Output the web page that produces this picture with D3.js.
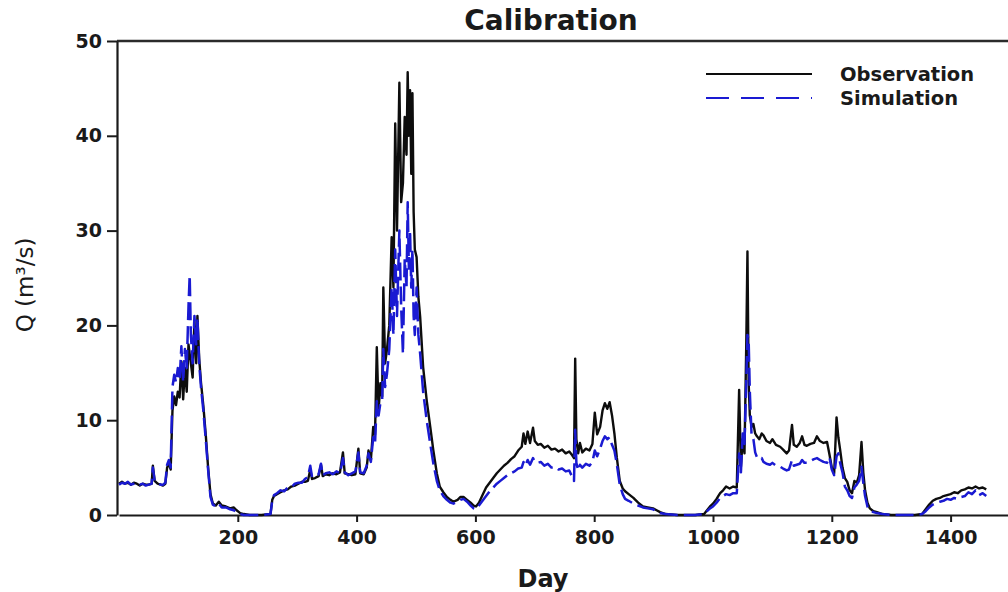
<!DOCTYPE html>
<html>
<head>
    <meta charset="utf-8">
    <script src="https://d3js.org/d3.v7.min.js"></script>
    <style>
        body { margin: 0; background: white; }
        text { font-family: "DejaVu Sans", sans-serif; }
    </style>
</head>
<body>
    <div id="my_dataviz"></div>

    <script>
        // daily discharge (irregular day sampling)
        var days = [0, 5, 10, 15, 20, 25, 30, 35, 40, 45, 50, 55, 57, 60, 65, 70, 74, 78, 81, 84, 87, 90, 93, 96, 99, 102, 105, 108, 111, 114, 117, 119, 121, 124, 127, 130, 132, 135, 138, 142, 146, 150, 154, 158, 163, 168, 173, 180, 187, 193, 198, 204, 210, 220, 240, 255,
            258, 261, 266, 272, 278, 284, 290, 296, 302, 308, 313, 318, 322, 325, 330, 336, 340, 343, 348, 354, 360, 366, 372, 377, 380, 386, 392, 398, 403, 406, 412, 417, 420, 424, 428, 431, 434, 437, 440, 443, 445, 448, 451, 455, 459, 462, 465, 468, 472, 475, 478, 481, 484, 486, 488, 490, 492, 494, 496, 498, 501, 504, 507, 512, 518, 524, 529, 535, 540, 546, 552, 558, 563, 570, 575, 580, 586, 592, 597,
            601, 606, 612, 618, 624, 630, 636, 642, 648, 654, 660, 666, 672, 678, 681, 684, 688, 692, 697, 700, 705, 710, 716, 722, 728, 734, 740, 746, 752, 758, 763, 766, 768, 770, 773, 776, 780, 786, 792, 797, 801, 805, 810, 814, 818, 822, 826, 830, 834, 838, 843, 848, 852, 858, 866, 874, 882, 890, 899, 905, 911, 920, 940, 970, 985,
            990, 995, 1000, 1006, 1012, 1017, 1022, 1028, 1034, 1040, 1044, 1047, 1050, 1053, 1056, 1058, 1060, 1062, 1065, 1068, 1071, 1074, 1078, 1082, 1085, 1090, 1096, 1100, 1106, 1113, 1118, 1124, 1128, 1133, 1136, 1141, 1146, 1150, 1154, 1158, 1164, 1170, 1175, 1180, 1186, 1192, 1196, 1200, 1204, 1208, 1211, 1214, 1218, 1222, 1226, 1230, 1234, 1238, 1242, 1246, 1250, 1253, 1256, 1260, 1264, 1270, 1276, 1285, 1300, 1340,
            1352, 1358, 1364, 1370, 1376, 1382, 1388, 1394, 1400, 1406, 1412, 1418, 1424, 1430, 1436, 1442, 1448, 1454, 1460];

        var observation = [3.3, 3.5, 3.3, 3.4, 3.2, 3.4, 3.3, 3.1, 3.3, 3.2, 3.2, 3.3, 5.2, 3.6, 3.3, 3.2, 3.1, 3.3, 5.0, 5.4, 4.8, 11.0, 12.5, 11.6, 13.0, 12.4, 16.2, 12.2, 15.5, 13.0, 18.0, 17.0, 16.0, 14.5, 20.5, 16.0, 21.0, 16.5, 14.0, 11.5, 8.5, 5.0, 2.2, 1.2, 1.0, 1.4, 1.0, 0.9, 0.7, 0.8, 0.5, 0.2, 0.1, 0.0, 0.0, 0.1,
            1.6, 2.0, 2.2, 2.4, 2.6, 2.7, 3.0, 3.1, 3.3, 3.5, 3.5, 3.6, 4.8, 3.8, 3.9, 4.1, 5.3, 4.1, 4.3, 4.2, 4.4, 4.3, 4.5, 6.6, 4.4, 4.3, 4.2, 4.3, 7.0, 4.4, 4.3, 5.0, 6.8, 5.8, 9.3, 8.5, 17.7, 11.0, 13.9, 12.5, 24.0, 16.0, 17.4, 20.0, 29.3, 24.0, 41.3, 30.0, 45.6, 33.0, 35.0, 42.0, 38.0, 46.7, 40.0, 44.8, 36.0, 44.5, 32.0, 28.0, 27.2, 23.0, 20.9, 15.6, 12.1, 9.3, 6.9, 4.4, 3.0, 2.4, 1.9, 1.6, 1.4, 1.6, 1.9, 1.9, 1.6, 1.3, 1.0,
            0.9, 1.3, 2.1, 2.9, 3.4, 3.9, 4.4, 4.8, 5.2, 5.5, 5.9, 6.2, 6.8, 7.2, 8.6, 7.5, 8.8, 7.6, 9.2, 7.8, 7.4, 7.5, 7.1, 7.3, 6.9, 7.0, 6.7, 6.9, 6.5, 6.7, 6.3, 6.0, 16.5, 8.0, 6.5, 7.6, 6.6, 7.0, 6.8, 7.5, 10.8, 8.5, 9.3, 11.0, 11.8, 11.2, 11.9, 10.5, 8.6, 6.1, 3.6, 2.8, 2.5, 2.2, 1.8, 1.3, 0.9, 0.8, 0.7, 0.5, 0.3, 0.1, 0.0, 0.0, 0.1,
            0.5, 0.9, 1.2, 1.7, 2.3, 2.6, 3.0, 2.8, 3.0, 2.9, 13.2, 5.1, 8.0, 6.5, 18.0, 27.8, 14.0, 10.5, 9.3, 9.6, 8.6, 8.3, 8.0, 8.6, 8.4, 7.8, 7.6, 8.0, 7.4, 7.2, 6.9, 6.5, 6.8, 9.5, 7.4, 7.2, 7.6, 8.3, 7.4, 7.3, 7.5, 7.6, 8.3, 7.8, 7.6, 7.7, 6.4, 5.0, 4.4, 10.3, 8.2, 6.9, 5.0, 3.9, 3.5, 2.6, 2.3, 3.6, 3.4, 4.2, 7.7, 4.5, 2.6, 1.3, 0.7, 0.4, 0.3, 0.1, 0.0, 0.0,
            0.1, 0.6, 1.1, 1.5, 1.7, 1.8, 2.0, 2.1, 2.2, 2.4, 2.3, 2.6, 2.7, 2.9, 2.8, 3.0, 2.8, 2.9, 2.7];

        var simulation = [3.2, 3.4, 3.3, 3.5, 3.2, 3.3, 3.4, 3.2, 3.3, 3.1, 3.2, 3.3, 5.0, 3.6, 3.4, 3.2, 3.2, 3.4, 5.3, 5.8, 5.0, 13.5, 14.8, 14.0, 15.5, 14.2, 17.8, 14.0, 17.5, 15.5, 22.0, 25.3, 19.0, 16.0, 21.0, 18.0, 20.8, 16.0, 13.5, 11.0, 8.0, 4.8, 1.9, 1.1, 0.9, 1.2, 0.8, 0.8, 0.6, 0.5, 0.3, 0.1, 0.0, 0.0, 0.0, 0.1,
            1.5, 2.1, 2.3, 2.6, 2.5, 2.9, 2.9, 3.3, 3.4, 3.4, 3.8, 4.0, 5.2, 4.0, 4.1, 4.3, 5.4, 4.2, 4.4, 4.5, 4.3, 4.6, 4.4, 6.0, 4.5, 4.2, 4.4, 4.6, 6.6, 4.5, 4.4, 5.2, 6.5, 5.6, 8.2, 7.5, 12.0, 10.5, 11.8, 12.0, 17.5, 13.5, 14.8, 17.5, 24.0, 19.0, 28.0, 21.0, 30.0, 22.0, 17.0, 27.0, 24.0, 33.0, 26.0, 30.0, 24.0, 28.0, 21.0, 19.0, 24.0, 19.0, 17.0, 13.0, 10.0, 7.5, 5.5, 3.6, 2.6, 2.0, 1.6, 1.3, 1.2, 1.4, 1.6, 1.7, 1.4, 1.0, 0.7,
            0.6, 1.0, 1.5, 2.0, 2.5, 2.9, 3.3, 3.6, 3.9, 4.2, 4.4, 4.6, 4.9, 5.0, 5.6, 5.2, 5.8, 5.3, 6.0, 5.6, 5.5, 5.6, 5.2, 5.4, 5.0, 5.1, 4.8, 4.9, 4.6, 4.7, 4.0, 3.6, 9.0, 5.5, 4.7, 5.3, 5.0, 5.4, 5.2, 5.6, 6.8, 6.2, 7.0, 7.8, 8.3, 8.0, 8.2, 7.4, 6.8, 5.4, 3.2, 2.2, 1.7, 1.5, 1.2, 1.0, 0.8, 0.7, 0.6, 0.4, 0.2, 0.1, 0.0, 0.0, 0.1,
            0.4, 0.7, 0.9, 1.3, 1.8, 2.0, 2.2, 2.1, 2.3, 2.3, 6.5, 4.5, 8.6, 7.5, 14.0, 19.0, 18.5, 13.0, 8.3, 8.0, 6.6, 6.1, 5.9, 6.0, 5.6, 5.4, 5.3, 5.5, 5.2, 5.1, 4.9, 4.7, 4.8, 5.8, 5.2, 5.3, 5.4, 5.8, 5.5, 5.5, 5.7, 5.9, 6.0, 5.8, 5.6, 5.5, 6.1, 4.8, 4.2, 6.2, 6.5, 5.5, 4.5, 3.0, 2.6, 2.0, 1.8, 2.9, 3.2, 3.6, 5.1, 3.4, 2.0, 0.9, 0.5, 0.3, 0.2, 0.1, 0.0, 0.0,
            0.1, 0.4, 0.8, 1.1, 1.3, 1.4, 1.5, 1.7, 1.6, 1.8, 1.7, 1.9, 2.0, 2.4, 2.2, 2.6, 2.1, 2.3, 2.0];

        var yTicks = [0, 10, 20, 30, 40, 50];
        var xTicks = [200, 400, 600, 800, 1000, 1200, 1400];

        var W = 1008, H = 592;

        var svg = d3.select("#my_dataviz")
            .append("svg")
            .attr("width", W)
            .attr("height", H);

        var x = d3.scaleLinear().domain([0, 1500]).range([119, 1010]);
        var y = d3.scaleLinear().domain([0, 50]).range([515, 41]);

        // top frame line
        svg.append("line")
            .attr("x1", 117).attr("x2", 1008)
            .attr("y1", y(50)).attr("y2", y(50))
            .attr("stroke", "#2b2b2b").attr("stroke-width", 2.5);

        // Y axis
        svg.append("g")
            .attr("transform", "translate(117,0)")
            .call(d3.axisLeft(y).tickValues(yTicks).tickSize(10).tickPadding(5).tickSizeOuter(0));
        // X axis
        svg.append("g")
            .attr("transform", "translate(0," + y(0) + ")")
            .call(d3.axisBottom(x).tickValues(xTicks).tickFormat(d3.format("d")).tickSize(7).tickPadding(9).tickSizeOuter(0));

        svg.selectAll(".domain").attr("stroke", "#1a1a1a").attr("stroke-width", 2.2);
        svg.selectAll(".tick line").attr("stroke", "#1a1a1a").attr("stroke-width", 2);
        svg.selectAll(".tick text")
            .style("font-family", "DejaVu Sans")
            .style("font-size", "19px")
            .style("font-weight", "bold")
            .attr("fill", "#1a1a1a");

        var obsData = days.map(function (d, i) { return [d, observation[i]]; });
        var simData = days.map(function (d, i) { return [d, simulation[i]]; });

        var line = d3.line()
            .x(function (d) { return x(d[0]); })
            .y(function (d) { return y(d[1]); });

        svg.append("path")
            .datum(obsData)
            .attr("fill", "none")
            .attr("stroke", "#0d0d0d")
            .attr("stroke-width", 2.4)
            .attr("stroke-linejoin", "round")
            .attr("d", line);

        svg.append("path")
            .datum(simData)
            .attr("fill", "none")
            .attr("stroke", "#1a1ad2")
            .attr("stroke-width", 2.5)
            .attr("stroke-dasharray", "18,6")
            .attr("stroke-linejoin", "round")
            .attr("d", line);

        // title
        svg.append("text")
            .attr("x", 551)
            .attr("y", 30)
            .attr("text-anchor", "middle")
            .style("font-size", "28px")
            .style("font-weight", "bold")
            .attr("fill", "#1a1a1a")
            .text("Calibration");

        // axis titles
        svg.append("text")
            .attr("x", 543)
            .attr("y", 587)
            .attr("text-anchor", "middle")
            .style("font-size", "24px")
            .style("font-weight", "bold")
            .attr("fill", "#1a1a1a")
            .text("Day");

        svg.append("text")
            .attr("transform", "translate(33,285) rotate(-90)")
            .attr("text-anchor", "middle")
            .style("font-size", "23px")
            .attr("fill", "#1a1a1a")
            .text("Q (m³/s)");

        // legend
        var legend = [
            { label: "Observation", color: "#0d0d0d", dash: null, y: 74 },
            { label: "Simulation", color: "#1a1ad2", dash: "23,12", y: 98 }
        ];
        var lg = svg.selectAll(".legend")
            .data(legend)
            .enter()
            .append("g")
            .attr("class", "legend");
        lg.append("line")
            .attr("x1", 706).attr("x2", 812)
            .attr("y1", function (d) { return d.y; })
            .attr("y2", function (d) { return d.y; })
            .attr("stroke", function (d) { return d.color; })
            .attr("stroke-width", 2.2)
            .attr("stroke-dasharray", function (d) { return d.dash; });
        lg.append("text")
            .attr("x", 840)
            .attr("y", function (d) { return d.y + 7; })
            .style("font-size", "19.5px")
            .style("font-weight", "bold")
            .attr("fill", "#1a1a1a")
            .text(function (d) { return d.label; });
    </script>
</body>
</html>
